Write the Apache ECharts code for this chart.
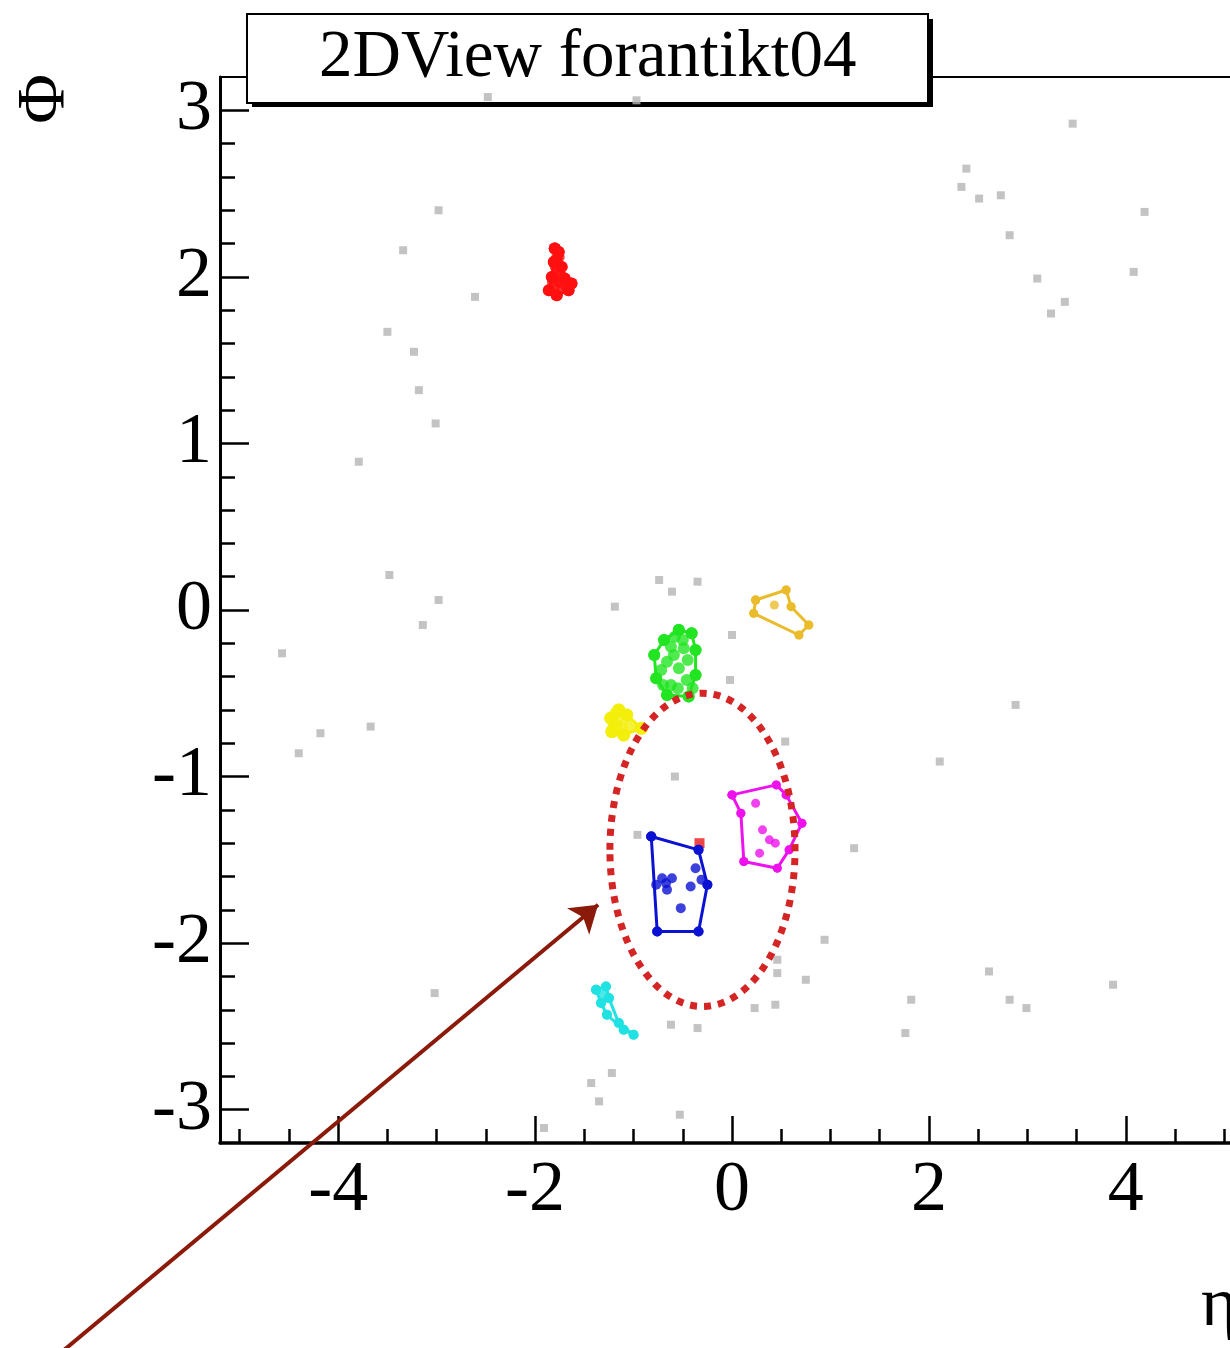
<!DOCTYPE html>
<html>
<head>
<meta charset="utf-8">
<script src="https://cdn.jsdelivr.net/npm/echarts@6/dist/echarts.min.js"></script>
<style>
  html, body { margin: 0; padding: 0; background: #ffffff; overflow: hidden; }
  /* the frame runs on past the right edge of the page */
  #chart { width: 1262px; height: 1348px; }
</style>
</head>
<body>
<div id="chart"></div>
<script>
// Axis ranges and tick positions (eta horizontally, phi vertically)
const etaRange = [-5.2, 5.2];
const phiRange = [-3.2, 3.2];
const etaMajorTicks = [-4, -2, 0, 2, 4];
const etaMinorTicks = [-5, -4.5, -3.5, -3, -2.5, -1.5, -1, -0.5, 0.5, 1, 1.5, 2.5, 3, 3.5, 4.5, 5];
const phiMajorTicks = [-3, -2, -1, 0, 1, 2, 3];
const phiMinorTicks = [-2.8, -2.6, -2.4, -2.2, -1.8, -1.6, -1.4, -1.2, -0.8, -0.6, -0.4, -0.2,
                       0.2, 0.4, 0.6, 0.8, 1.2, 1.4, 1.6, 1.8, 2.2, 2.4, 2.6, 2.8];
const etaTitle = 'η';
const phiTitle = 'Φ';
const plotTitle = '2DView forantikt04';

// Unclustered hits [eta, phi]
const grayHits = [
  [-2.48, 3.08], [-0.97, 3.06], [3.46, 2.92],
  [-2.98, 2.40], [-3.34, 2.16], [-2.61, 1.88], [-3.50, 1.67], [-3.23, 1.55], [-3.18, 1.32], [-3.01, 1.12], [-3.79, 0.89],
  [2.38, 2.65], [2.33, 2.54], [2.51, 2.47], [2.73, 2.49], [2.82, 2.25], [3.10, 1.99], [3.38, 1.85], [3.24, 1.78], [4.19, 2.39], [4.08, 2.03],
  [-3.48, 0.21], [-2.98, 0.06], [-3.14, -0.09], [-4.57, -0.26], [-4.18, -0.74], [-4.40, -0.86], [-3.67, -0.70],
  [-1.19, 0.02], [-0.74, 0.18], [-0.61, 0.11], [-0.35, 0.17], [0.00, -0.15], [-0.02, -0.42], [0.54, -0.79], [-0.58, -1.00], [-0.96, -1.35],
  [1.24, -1.43], [2.11, -0.91], [2.88, -0.57],
  [0.94, -1.98], [0.46, -2.10], [0.46, -2.18], [0.75, -2.22], [0.23, -2.39], [0.44, -2.37], [-0.62, -2.49], [-0.35, -2.51],
  [1.82, -2.34], [1.76, -2.54], [2.61, -2.17], [2.82, -2.34], [2.99, -2.39], [3.87, -2.25],
  [-1.22, -2.78], [-1.43, -2.84], [-1.35, -2.95], [-1.91, -3.11], [-0.53, -3.03], [-3.02, -2.30]
];

// Jet constituents, one array per jet, plus the outline order (indices into the hits)
const redHits = [[-1.80, 2.17], [-1.76, 2.15], [-1.81, 2.09], [-1.73, 2.06], [-1.83, 2.00], [-1.70, 1.99], [-1.63, 1.96],
                 [-1.66, 1.92], [-1.78, 1.89], [-1.86, 1.92], [-1.73, 1.93], [-1.77, 2.03], [-1.80, 1.95], [-1.78, 2.11],
                 [-1.76, 2.12], [-1.74, 2.01], [-1.69, 1.95], [-1.75, 1.97], [-1.82, 1.97], [-1.79, 2.06]];
const redHull = [0, 1, 3, 5, 6, 7, 8, 9, 4, 2];
const redExtraHits = [[-0.33, -1.40]];

const orangeHits = [[0.24, 0.06], [0.55, 0.12], [0.60, 0.02], [0.78, -0.09], [0.68, -0.15], [0.22, -0.02], [0.43, 0.03]];
const orangeHull = [0, 1, 2, 3, 4, 5];

const greenHits = [[-0.54, -0.12], [-0.41, -0.14], [-0.37, -0.24], [-0.37, -0.39], [-0.44, -0.52], [-0.66, -0.51],
                   [-0.77, -0.41], [-0.79, -0.27], [-0.69, -0.18], [-0.59, -0.27], [-0.49, -0.23], [-0.54, -0.35],
                   [-0.66, -0.31], [-0.46, -0.42], [-0.62, -0.45], [-0.72, -0.36], [-0.50, -0.18], [-0.58, -0.16],
                   [-0.45, -0.30], [-0.70, -0.45], [-0.40, -0.47], [-0.62, -0.22], [-0.55, -0.47]];
const greenHull = [0, 1, 2, 3, 4, 5, 6, 7, 8];

const yellowHits = [[-1.23, -0.65], [-1.15, -0.60], [-1.07, -0.63], [-0.92, -0.71], [-1.10, -0.75], [-1.22, -0.73],
                    [-1.17, -0.68], [-1.03, -0.69], [-1.18, -0.62], [-1.13, -0.70], [-1.20, -0.70]];
const yellowHull = [0, 1, 2, 3, 4, 5];

const magentaHits = [[0.00, -1.11], [0.45, -1.05], [0.55, -1.11], [0.71, -1.28], [0.58, -1.44], [0.46, -1.55],
                     [0.12, -1.51], [0.09, -1.22], [0.24, -1.16], [0.31, -1.32], [0.38, -1.38], [0.28, -1.46], [0.44, -1.40]];
const magentaHull = [0, 1, 2, 3, 4, 5, 6, 7];

const blueHits = [[-0.82, -1.36], [-0.34, -1.44], [-0.25, -1.65], [-0.34, -1.93], [-0.76, -1.93], [-0.77, -1.65],
                  [-0.71, -1.61], [-0.61, -1.61], [-0.66, -1.68], [-0.37, -1.55], [-0.42, -1.66], [-0.31, -1.62],
                  [-0.52, -1.79], [-0.67, -1.64]];
const blueHull = [0, 1, 2, 3, 4];

const cyanHits = [[-1.38, -2.28], [-1.28, -2.26], [-1.25, -2.33], [-1.33, -2.36], [-1.27, -2.43], [-1.15, -2.48],
                  [-1.00, -2.55], [-1.10, -2.52], [-1.31, -2.31]];
const cyanHull = [0, 1, 2, 5, 6, 7, 4, 3];

// Highlighted cone: centre [eta, phi] and radius
const coneCenter = [-0.30, -1.44];
const coneRadius = 0.94;

// Pointer arrow, tail and tip in [eta, phi]
const arrowTail = [-6.9, -4.5];
const arrowTip = [-1.36, -1.77];

const serif = 'Liberation Serif';

function clusterSeries(name, color, hits, hull, dot) {
  const outline = hull.map(i => hits[i]);
  outline.push(hits[hull[0]]);
  return [
    {
      name: name + ' outline',
      type: 'line',
      data: outline,
      symbol: 'circle',
      symbolSize: dot,
      showSymbol: true,
      lineStyle: { color: color, width: 3 },
      itemStyle: { color: color },
      z: 8,
      silent: true
    },
    {
      name: name,
      type: 'scatter',
      data: hits,
      symbol: 'circle',
      symbolSize: dot,
      itemStyle: { color: color },
      z: 8,
      silent: true
    }
  ];
}

const chart = echarts.init(document.getElementById('chart'));

const series = [
  {
    name: 'hits',
    type: 'scatter',
    data: grayHits,
    symbol: 'rect',
    symbolSize: 8,
    itemStyle: { color: '#b4b4b4' },
    z: 7,
    silent: true
  },
  ...clusterSeries('jet 1', '#ff1010', redHits, redHull, 12),
  {
    name: 'jet 1 extra',
    type: 'scatter',
    data: redExtraHits,
    symbol: 'rect',
    symbolSize: 10,
    itemStyle: { color: '#ee1818' },
    z: 8,
    silent: true
  },
  ...clusterSeries('jet 2', '#eabb2a', orangeHits, orangeHull, 9),
  ...clusterSeries('jet 3', '#22e522', greenHits, greenHull, 12),
  ...clusterSeries('jet 4', '#f2ee0a', yellowHits, yellowHull, 13),
  ...clusterSeries('jet 5', '#ee12ee', magentaHits, magentaHull, 9),
  ...clusterSeries('jet 6', '#0b12d2', blueHits, blueHull, 10),
  ...clusterSeries('jet 7', '#22e2e2', cyanHits, cyanHull, 10),
  {
    name: 'cone',
    type: 'custom',
    data: [[coneCenter[0], coneCenter[1], coneRadius]],
    silent: true,
    z: 9,
    renderItem: function (params, api) {
      const c = api.coord([api.value(0), api.value(1)]);
      const s = api.size([api.value(2), api.value(2)]);
      return {
        type: 'ellipse',
        shape: { cx: c[0], cy: c[1], rx: s[0], ry: s[1] },
        style: { fill: 'none', stroke: '#d42424', lineWidth: 7, lineDash: [7, 7] }
      };
    }
  },
  {
    name: 'pointer',
    type: 'lines',
    coordinateSystem: 'cartesian2d',
    clip: false,
    silent: true,
    z: 20,
    symbol: ['none', 'arrow'],
    symbolSize: [0, 26],
    lineStyle: { color: '#8b1a0a', width: 4, opacity: 1, curveness: 0 },
    data: [{ coords: [arrowTail, arrowTip] }]
  }
];

function valueAxis(extra) {
  return Object.assign({
    type: 'value',
    splitLine: { show: false },
    axisLine: { show: false, onZero: false },
    axisLabel: { show: false },
    axisTick: { show: false }
  }, extra);
}

chart.setOption({
  animation: false,
  backgroundColor: '#ffffff',
  title: {
    text: plotTitle,
    left: 247,
    top: 14,
    z: 6,
    padding: [11, 72, 11, 72],
    backgroundColor: '#ffffff',
    borderColor: '#000000',
    borderWidth: 2,
    textStyle: { fontFamily: serif, fontSize: 67, fontWeight: 'normal', color: '#000000' }
  },
  // drop shadow of the title box and the two axis titles
  graphic: [
    {
      type: 'rect', z: 5, silent: true,
      shape: { x: 252, y: 19, width: 681, height: 88 },
      style: { fill: '#000000' }
    },
    {
      type: 'text', z: 10, silent: true,
      x: 45, y: 99, rotation: Math.PI / 2,
      style: { text: phiTitle, fontFamily: serif, fontSize: 68, fill: '#000000', align: 'center', verticalAlign: 'middle' }
    },
    {
      type: 'text', z: 10, silent: true,
      x: 1201, y: 1307,
      style: { text: etaTitle, fontFamily: serif, fontSize: 70, fill: '#000000', align: 'left', verticalAlign: 'middle' }
    }
  ],
  grid: {
    left: 220, top: 77, right: 18, bottom: 205,
    show: true, borderColor: '#000000', borderWidth: 2, backgroundColor: 'transparent'
  },
  xAxis: [
    valueAxis({
      position: 'bottom',
      min: etaRange[0], max: etaRange[1],
      axisLine: { show: true, onZero: false, lineStyle: { color: '#000000', width: 3.5 } },
      axisTick: { show: true, inside: true, length: 27, customValues: etaMajorTicks,
                  lineStyle: { color: '#000000', width: 2.5 } },
      axisLabel: { show: true, customValues: etaMajorTicks, margin: 12,
                   fontFamily: serif, fontSize: 72, color: '#000000' }
    }),
    valueAxis({
      position: 'bottom',
      min: etaRange[0], max: etaRange[1],
      axisTick: { show: true, inside: true, length: 14, customValues: etaMinorTicks,
                  lineStyle: { color: '#000000', width: 2.5 } }
    })
  ],
  yAxis: [
    valueAxis({
      position: 'left',
      min: phiRange[0], max: phiRange[1],
      axisLine: { show: true, onZero: false, lineStyle: { color: '#000000', width: 3 } },
      axisTick: { show: true, inside: true, length: 29, customValues: phiMajorTicks,
                  lineStyle: { color: '#000000', width: 2.5 } },
      axisLabel: { show: true, customValues: phiMajorTicks, margin: 8,
                   fontFamily: serif, fontSize: 72, color: '#000000' }
    }),
    valueAxis({
      position: 'left',
      min: phiRange[0], max: phiRange[1],
      axisTick: { show: true, inside: true, length: 15, customValues: phiMinorTicks,
                  lineStyle: { color: '#000000', width: 2.5 } }
    })
  ],
  series: series.map(s => Object.assign({ xAxisIndex: 0, yAxisIndex: 0 }, s))
});
</script>
</body>
</html>
